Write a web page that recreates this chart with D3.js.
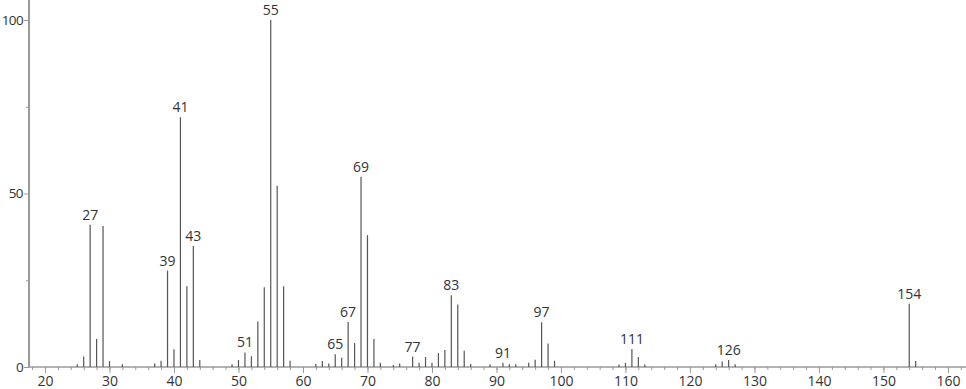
<!DOCTYPE html>
<html><head><meta charset="utf-8">
<script src="https://cdn.jsdelivr.net/npm/d3@7"></script>
<style>
body{margin:0;background:#fff;}
svg text{font-family:"Open Sans","Lato",sans-serif;}
</style></head>
<body>
<svg id="chart" width="966" height="389"></svg>
<script>
const mz = [25,26,27,28,29,30,32,37,38,39,40,41,42,43,44,49,50,51,52,53,54,55,56,57,58,62,63,64,65,66,67,68,69,70,71,72,74,75,77,78,79,80,81,82,83,84,85,86,89,91,92,93,95,96,97,98,99,109,110,111,112,113,124,125,126,127,154,155];
const intensity = [0.8,3,41,8.1,40.6,1.7,0.8,1,1.8,27.8,5.1,72,23.3,34.9,2,0.8,2,4.2,3.1,13.1,23,100,52.2,23.3,1.8,0.9,1.7,1,3.7,2.7,13,6.9,54.8,38,8.1,1.2,0.6,1,3,1.2,2.9,1.2,4,4.9,20.7,18,4.7,0.9,0.8,1.2,0.8,0.8,1.2,2.1,12.9,6.8,1.8,0.7,1.2,5.2,2.9,0.7,0.8,1.6,2,0.8,18.2,1.7];
const labeledPeaks = [27,39,41,43,51,55,65,67,69,77,83,91,97,111,126,154];
const xMajorTicks = [20,30,40,50,60,70,80,90,100,110,120,130,140,150,160];
const yMajorTicks = [0,50,100];

const svg = d3.select("#chart");
const x = d3.scaleLinear().domain([17.52,162.8]).range([29,966]);
const y = d3.scaleLinear().domain([0,100]).range([367,20]);

const axisColor = "#9a9a9a";
const textColor = "#333";

// x axis minor ticks (every 2)
const minor = d3.range(18,163,2);
const xAxis = d3.axisBottom(x).tickValues(minor).tickSize(3).tickFormat("");
const gxm = svg.append("g").attr("transform","translate(0,367)").call(xAxis);
gxm.select(".domain").remove();
gxm.selectAll("line").attr("stroke",axisColor);

const xAxisMaj = d3.axisBottom(x).tickValues(xMajorTicks).tickSize(6).tickPadding(3).tickFormat(d3.format("d"));
const gx = svg.append("g").attr("transform","translate(0,367)").call(xAxisMaj);
gx.select(".domain").attr("d","M29,0H966").attr("stroke",axisColor).attr("stroke-width",1.5);
gx.selectAll("line").attr("stroke",axisColor);
gx.selectAll("text").attr("fill",textColor).style("font-size","14px");

// y axis
const yAxisMinor = d3.axisLeft(y).tickValues([25,75]).tickSize(3).tickFormat("");
const gym = svg.append("g").attr("transform","translate(29,0)").call(yAxisMinor);
gym.select(".domain").remove();
gym.selectAll("line").attr("stroke",axisColor);

const yAxis = d3.axisLeft(y).tickValues(yMajorTicks).tickSize(5).tickPadding(1).tickFormat(d3.format("d"));
const gy = svg.append("g").attr("transform","translate(29,0)").call(yAxis);
gy.select(".domain").attr("d","M0,0V367").attr("stroke",axisColor).attr("stroke-width",2);
gy.selectAll("line").attr("stroke",axisColor);
gy.selectAll("text").attr("fill",textColor).style("font-size","13.5px").style("letter-spacing","-0.6px");

// bars
const data = mz.map((m,i)=>({m, v:intensity[i]}));
svg.append("g").selectAll("line").data(data).join("line")
  .attr("x1",d=>x(d.m)).attr("x2",d=>x(d.m))
  .attr("y1",y(0)).attr("y2",d=>y(d.v))
  .attr("stroke","#555").attr("stroke-width",1.2);

// peak labels
svg.append("g").selectAll("text").data(data.filter(d=>labeledPeaks.includes(d.m))).join("text")
  .attr("x",d=>x(d.m)).attr("y",d=>y(d.v)-5)
  .attr("text-anchor","middle").attr("fill",textColor).style("font-size","14px")
  .text(d=>d.m);
</script>
</body></html>
